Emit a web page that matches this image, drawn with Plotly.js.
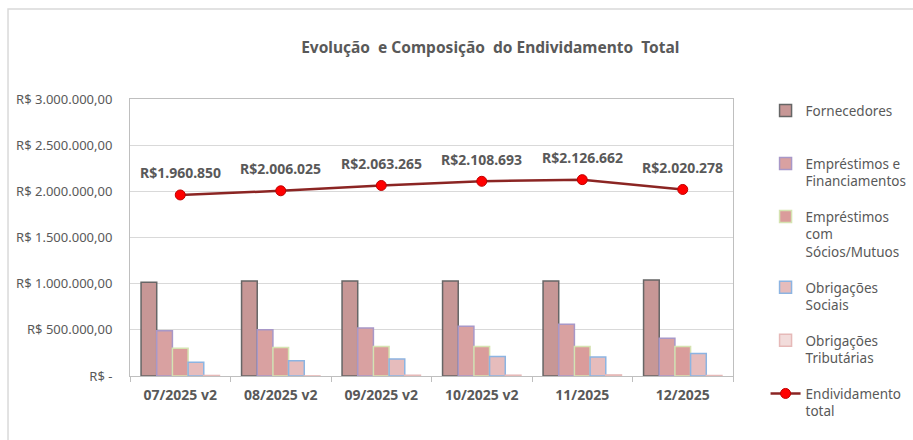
<!DOCTYPE html>
<html>
<head>
<meta charset="utf-8">
<script src="https://cdn.plot.ly/plotly-3.0.1.min.js"></script>
<style>
  html, body { margin: 0; padding: 0; background: #fff; }
  #graph { width: 913px; height: 440px; }
</style>
</head>
<body>
<div id="graph"></div>
<script>
var meses = ['07/2025 v2', '08/2025 v2', '09/2025 v2', '10/2025 v2', '11/2025', '12/2025'];

var fornecedores = [1015000, 1030000, 1030000, 1030000, 1030000, 1040000];
var emprestimos = [490000, 500000, 520000, 540000, 560000, 410000];
var socios = [300000, 310000, 320000, 320000, 320000, 320000];
var sociais = [150000, 165000, 185000, 210000, 205000, 245000];
var tributarias = [5850, 1025, 8265, 8693, 11662, 5278];
var total = [1960850, 2006025, 2063265, 2108693, 2126662, 2020278];
var totalLabels = ['R$1.960.850', 'R$2.006.025', 'R$2.063.265', 'R$2.108.693', 'R$2.126.662', 'R$2.020.278'];

var yTicks = [0, 500000, 1000000, 1500000, 2000000, 2500000, 3000000];
var yTickText = ['R$ -', 'R$ 500.000,00', 'R$ 1.000.000,00', 'R$ 1.500.000,00',
                 'R$ 2.000.000,00', 'R$ 2.500.000,00', 'R$ 3.000.000,00'];

var grey = '#595959';
var font = 'Noto Sans, sans-serif';

function barra(nome, valores, cor, borda, grupo) {
  return {
    x: meses, y: valores, name: nome, type: 'bar',
    legendgroup: grupo,
    marker: {color: cor, line: {color: borda, width: 1.5}},
    hoverinfo: 'skip'
  };
}

var data = [
  barra('Fornecedores<br> ', fornecedores, '#c79796', '#666666', 'a'),
  barra('Empréstimos e<br>Financiamentos', emprestimos, '#d9a1a1', '#a898c8', 'b'),
  barra('Empréstimos<br>com<br>Sócios/Mutuos', socios, '#da9c9b', '#d5e3b1', 'c'),
  barra('Obrigações<br>Sociais', sociais, '#e6bcbc', '#8cb4e2', 'd'),
  barra('Obrigações<br>Tributárias', tributarias, '#f2dcdb', '#e6b9b8', 'e'),
  {
    x: meses, y: total, name: 'Endividamento<br>total', type: 'scatter',
    mode: 'lines+markers', legendgroup: 'f',
    line: {color: '#8b2523', width: 2.5},
    marker: {color: '#ff0000', size: 10, line: {color: '#c00000', width: 1}},
    hoverinfo: 'skip'
  }
];

var annotations = total.map(function (v, i) {
  return {
    x: meses[i], y: v, text: totalLabels[i], showarrow: false,
    yshift: 22, font: {family: font, size: 14, color: grey, weight: 'bold'}
  };
});

var layout = {
  title: {
    text: 'Evolução  e Composição  do Endividamento  Total',
    font: {family: font, size: 15.5, color: grey, weight: 'bold'},
    xref: 'container', x: 0.537, xanchor: 'center',
    yref: 'container', y: 0.893, yanchor: 'middle'
  },
  font: {family: font, size: 12, color: grey},
  margin: {l: 130, r: 180, t: 99, b: 64, autoexpand: false},
  paper_bgcolor: '#fff',
  plot_bgcolor: '#fff',
  barmode: 'group',
  bargap: 0.22,
  bargroupgap: 0,
  showlegend: true,
  legend: {
    x: 1.054, xanchor: 'left', y: 1.014, yanchor: 'top',
    traceorder: 'grouped', tracegroupgap: 15, valign: 'top',
    maxheight: 400,
    font: {family: font, size: 13.5, color: grey}
  },
  xaxis: {
    type: 'category',
    showline: true, linecolor: '#bfbfbf', linewidth: 1, mirror: true,
    ticks: 'outside', tickson: 'boundaries', ticklen: 5, tickcolor: '#bfbfbf',
    ticklabelstandoff: 6,
    tickfont: {family: font, size: 14, color: grey, weight: 'bold'},
    fixedrange: true
  },
  yaxis: {
    range: [0, 3000000],
    tickvals: yTicks, ticktext: yTickText,
    showgrid: true, gridcolor: '#d9d9d9', gridwidth: 1,
    showline: true, linecolor: '#bfbfbf', linewidth: 1, mirror: true,
    zeroline: false, ticklabelstandoff: 14,
    tickfont: {family: font, size: 13, color: grey},
    fixedrange: true
  },
  shapes: [{
    type: 'rect', xref: 'paper', yref: 'paper',
    x0: -0.2023, x1: 1.4, y0: -0.4, y1: 1.325,
    line: {color: '#d9d9d9', width: 1.5}, layer: 'below'
  }],
  annotations: annotations
};

Plotly.newPlot('graph', data, layout, {displayModeBar: false, staticPlot: true});
</script>
</body>
</html>
